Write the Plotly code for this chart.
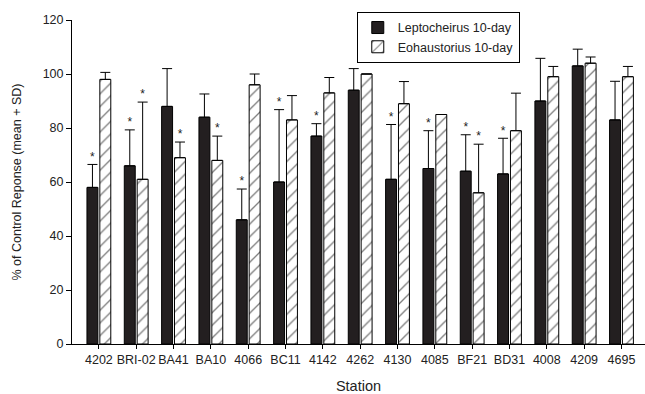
import plotly.graph_objects as go

stations = ["4202", "BRI-02", "BA41", "BA10", "4066", "BC11", "4142", "4262",
            "4130", "4085", "BF21", "BD31", "4008", "4209", "4695"]

lepto_mean = [58, 66, 88, 84, 46, 60, 77, 94, 61, 65, 64, 63, 90, 103, 83]
lepto_sd = [8.5, 13.3, 14, 8.6, 11.4, 26.8, 4.6, 8, 20.3, 14, 13.5, 13.2, 15.8, 6.2, 14.3]
lepto_sig = [1, 1, 0, 0, 1, 1, 1, 0, 1, 1, 1, 1, 0, 0, 0]

eoha_mean = [98, 61, 69, 68, 96, 83, 93, 100, 89, 85, 56, 79, 99, 104, 99]
eoha_sd = [2.6, 28.6, 5.8, 9, 4, 9, 5.7, None, 8.2, None, 18, 13.9, 3.8, 2.3, 3.8]
eoha_sig = [0, 1, 1, 1, 0, 0, 0, 0, 0, 0, 1, 0, 0, 0, 0]

y_ticks = [0, 20, 40, 60, 80, 100, 120]

FONT = "Liberation Sans, Arial, sans-serif"
TXT = "#222222"
idx = list(range(len(stations)))

BARGAP = 0.31
half = (1 - BARGAP) / 4  # centre offset of each bar within its group

fig = go.Figure()
fig.add_trace(go.Bar(
    x=idx, y=lepto_mean, name="Leptocheirus 10-day",
    marker=dict(color="#231f20", line=dict(color="#000000", width=1)),
    error_y=dict(type="data", array=lepto_sd, arrayminus=[0] * len(lepto_sd),
                 symmetric=False, color="#000000", thickness=1, width=5),
))
fig.add_trace(go.Bar(
    x=idx, y=eoha_mean, name="Eohaustorius 10-day",
    marker=dict(color="#ffffff", line=dict(color="#000000", width=1),
                pattern=dict(shape="/", fgcolor="#000000", bgcolor="#ffffff",
                             size=9, solidity=0.15)),
    error_y=dict(type="data", array=eoha_sd, arrayminus=[0] * len(eoha_sd),
                 symmetric=False, color="#000000", thickness=1, width=5),
))

# significance asterisks
def star_points(means, sds, sig, shift):
    xs, ys = [], []
    for i, (m, s, g) in enumerate(zip(means, sds, sig)):
        if g:
            xs.append(i + shift)
            ys.append(m + (s or 0) + 2.5)
    return xs, ys

for means, sds, sig, shift in [(lepto_mean, lepto_sd, lepto_sig, -half),
                               (eoha_mean, eoha_sd, eoha_sig, half)]:
    xs, ys = star_points(means, sds, sig, shift)
    fig.add_trace(go.Scatter(
        x=xs, y=ys, mode="text", text=["*"] * len(xs),
        textposition="middle center",
        textfont=dict(family=FONT, size=12, color=TXT),
        showlegend=False, hoverinfo="skip",
    ))

fig.update_layout(
    width=645, height=394,
    margin=dict(l=72, r=0, t=20, b=50, autoexpand=False),
    paper_bgcolor="white", plot_bgcolor="white",
    barmode="group", bargap=BARGAP, bargroupgap=0.15,
    font=dict(family=FONT, size=12.5, color=TXT),
    legend=dict(
        x=0.497, y=1.025, xanchor="left", yanchor="top",
        bordercolor="#000000", borderwidth=1, bgcolor="white",
        font=dict(family=FONT, size=12.5, color=TXT),
        itemwidth=30, tracegroupgap=0,
    ),
    showlegend=True,
)

fig.update_xaxes(
    range=[-0.72, 14.63], tickmode="array", tickvals=idx, ticktext=stations,
    showline=True, linecolor="#000000", linewidth=1,
    ticks="outside", ticklen=4, tickcolor="#000000",
    showgrid=False, zeroline=False, automargin=False,
    tickfont=dict(family=FONT, size=12.5, color=TXT),
    title=dict(text="Station", font=dict(family=FONT, size=14.5, color=TXT), standoff=15),
)
fig.update_yaxes(
    range=[0, 120], tickvals=y_ticks,
    showline=True, linecolor="#000000", linewidth=1,
    ticks="outside", ticklen=5, tickcolor="#000000",
    showgrid=False, zeroline=False, automargin=False,
    tickfont=dict(family=FONT, size=12.5, color=TXT),
    title=dict(text="% of Control Reponse (mean + SD)",
               font=dict(family=FONT, size=12.5, color=TXT), standoff=18),
)

fig.write_html("out.html",
               config={"displayModeBar": False},
               post_script="document.body.style.margin='0';document.body.style.padding='0';")
